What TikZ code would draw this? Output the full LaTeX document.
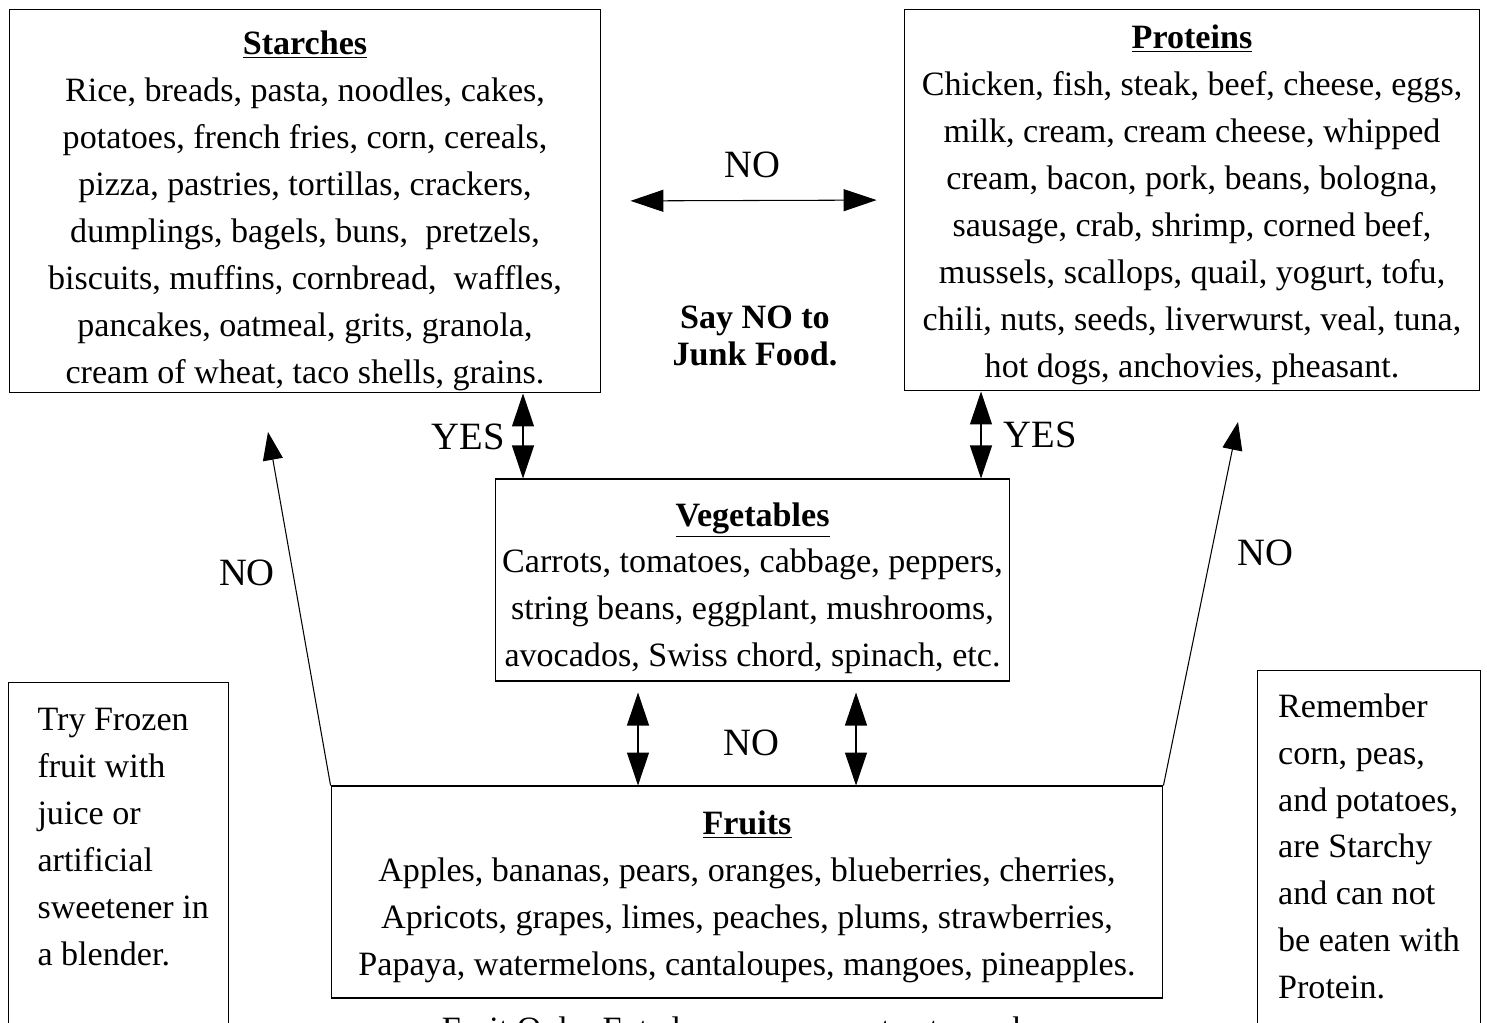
\documentclass[tikz,border=0pt]{standalone}
\usepackage{fontspec}
\setmainfont{Liberation Serif}
\usetikzlibrary{arrows.meta}

\newcommand{\bodyfont}{\fontsize{19.4}{26.7}\selectfont}
\newcommand{\tagfont}{\fontsize{22}{26}\selectfont}
\newcommand{\topgap}[1]{\rule{0pt}{#1}}

\tikzset{
  foodbox/.style={draw, line width=0.6pt, align=center, inner sep=0pt, font=\bodyfont},
  notebox/.style={draw, line width=0.6pt, align=flush left, anchor=north west, inner xsep=0pt, font=\bodyfont},
  tag/.style={font=\tagfont, inner sep=0pt},
  link/.style={line width=0.6pt, {Triangle[length=0.66cm,width=0.44cm]}-{Triangle[length=0.66cm,width=0.44cm]}},
  slant/.style={line width=0.6pt, -{Triangle[length=0.56cm,width=0.4cm]}}
}

\begin{document}
\begin{tikzpicture}[x=0.02cm, y=-0.02cm]
    \useasboundingbox (0,0) rectangle (1487,1023);

    % Draw food group boxes
    \node[foodbox, minimum width=11.84cm, minimum height=7.68cm] (starches) at (305,201)
      {\topgap{0.86cm}\underline{\textbf{Starches}}\\
       Rice, breads, pasta, noodles, cakes,\\
       potatoes, french fries, corn, cereals,\\
       pizza, pastries, tortillas, crackers,\\
       dumplings, bagels, buns,\ \ pretzels,\\
       biscuits, muffins, cornbread,\ \ waffles,\\
       pancakes, oatmeal, grits, granola,\\
       cream of wheat, taco shells, grains.};
    \node[foodbox, minimum width=11.52cm, minimum height=7.64cm] (proteins) at (1192,200)
      {\topgap{0.66cm}\underline{\textbf{Proteins}}\\
       Chicken, fish, steak, beef, cheese, eggs,\\
       milk, cream, cream cheese, whipped\\
       cream, bacon, pork, beans, bologna,\\
       sausage, crab, shrimp, corned beef,\\
       mussels, scallops, quail, yogurt, tofu,\\
       chili, nuts, seeds, liverwurst, veal, tuna,\\
       hot dogs, anchovies, pheasant.};
    \node[foodbox, minimum width=10.3cm, minimum height=4.04cm] (veg) at (752.5,580)
      {\topgap{0.8cm}\underline{\textbf{Vegetables}}\\
       Carrots, tomatoes, cabbage, peppers,\\
       string beans, eggplant, mushrooms,\\
       avocados, Swiss chord, spinach, etc.};
    \node[foodbox, minimum width=16.64cm, minimum height=4.24cm] (fruits) at (747,892)
      {\topgap{0.66cm}\underline{\textbf{Fruits}}\\
       Apples, bananas, pears, oranges, blueberries, cherries,\\
       Apricots, grapes, limes, peaches, plums, strawberries,\\
       Papaya, watermelons, cantaloupes, mangoes, pineapples.};

    % Draw side notes
    \node[notebox, minimum width=4.4cm, text width=3.24cm, inner ysep=0.52cm] (frozen) at (8,682)
      {Try Frozen\\fruit with\\juice or\\artificial\\\mbox{sweetener in}\\a blender.\\ \mbox{}\\ \mbox{}};
    \node[notebox, minimum width=4.46cm, inner ysep=0.46cm] (remember) at (1257,670)
      {Remember\\corn, peas,\\and potatoes,\\are Starchy\\and can not\\be eaten with\\Protein.\\ \mbox{}};

    % Define arrow positions
    \coordinate (yesL) at (523,0);
    \coordinate (yesR) at (981,0);
    \coordinate (noA) at (638,0);
    \coordinate (noB) at (856,0);
    \coordinate (tipL) at (268,432);
    \coordinate (tipR) at (1238,422);

    % Draw arrows
    \draw[link, shorten <=0.58cm, shorten >=0.54cm] (starches.east) -- (proteins.west);
    \draw[link] (starches.south -| yesL) -- (veg.north -| yesL);
    \draw[link] (proteins.south -| yesR) -- (veg.north -| yesR);
    \draw[link, shorten <=0.22cm] (veg.south -| noA) -- (fruits.north -| noA);
    \draw[link, shorten <=0.22cm] (veg.south -| noB) -- (fruits.north -| noB);
    \draw[slant] (fruits.north west) -- (tipL);
    \draw[slant] (fruits.north east) -- (tipR);

    % Arrow labels
    \node[tag] (noTop) at (752,165) {NO};
    \node[tag] (yesLeft) at (468,437) {YES};
    \node[tag] (yesRight) at (1040,435) {YES};
    \node[tag] (noLeft) at (247,573) {NO};
    \node[tag] (noRight) at (1265,553) {NO};
    \node[tag] (noMid) at (751,743) {NO};

    % Center message
    \node[font=\fontsize{19.4}{21}\selectfont\bfseries, align=center, inner sep=0pt] (junk) at (755,336)
      {Say NO to\\Junk Food.};

    % Bottom line, cut off by the page
    \node[font=\bodyfont, anchor=base, inner sep=0pt] (bottom) at (740,1040)
      {Fruit Only. Eat alone on an empty stomach.};
\end{tikzpicture}
\end{document}
